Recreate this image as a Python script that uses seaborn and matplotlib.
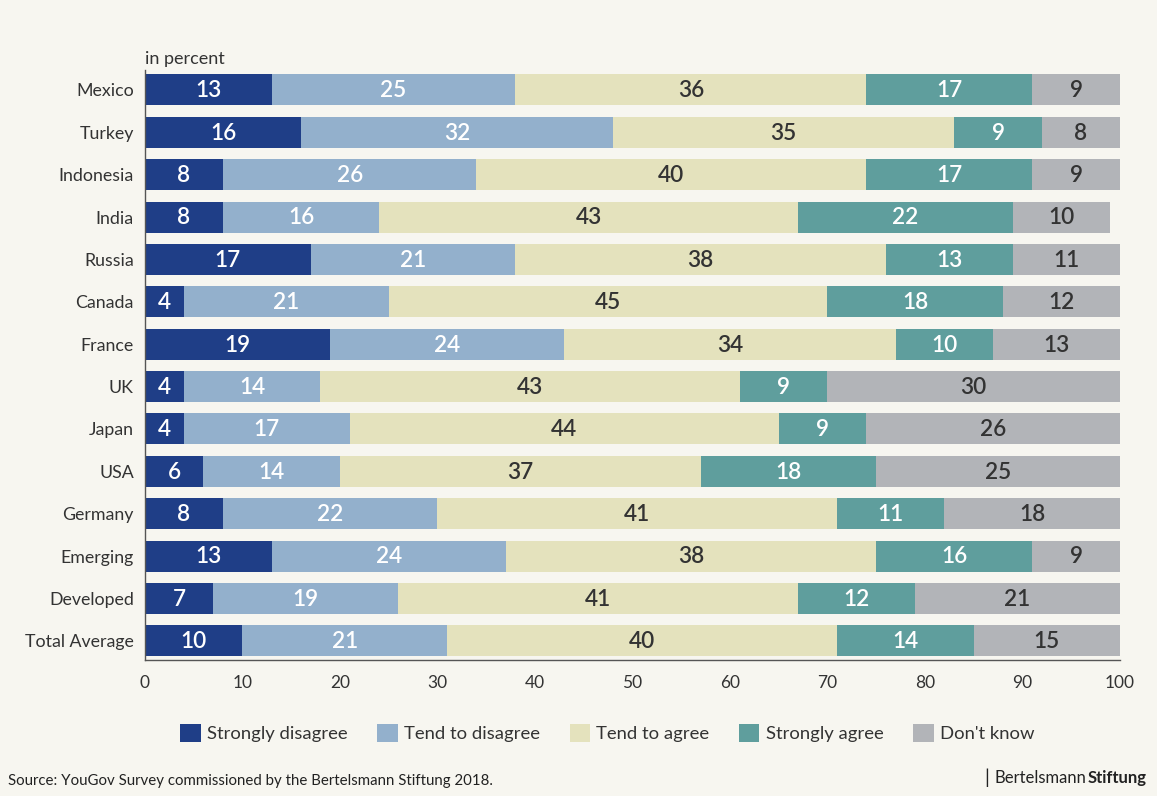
import matplotlib
matplotlib.use("Agg")
import matplotlib.pyplot as plt
from matplotlib.patches import Patch
import numpy as np
import pandas as pd
import seaborn as sns

# Survey answers per country, in percent
countries = ["Mexico", "Turkey", "Indonesia", "India", "Russia", "Canada", "France",
             "UK", "Japan", "USA", "Germany", "Emerging", "Developed", "Total Average"]
answers = ["Strongly disagree", "Tend to disagree", "Tend to agree", "Strongly agree", "Don't know"]
strongly_disagree = [13, 16, 8, 8, 17, 4, 19, 4, 4, 6, 8, 13, 7, 10]
tend_to_disagree = [25, 32, 26, 16, 21, 21, 24, 14, 17, 14, 22, 24, 19, 21]
tend_to_agree = [36, 35, 40, 43, 38, 45, 34, 43, 44, 37, 41, 38, 41, 40]
strongly_agree = [17, 9, 17, 22, 13, 18, 10, 9, 9, 18, 11, 16, 12, 14]
dont_know = [9, 8, 9, 10, 11, 12, 13, 30, 26, 25, 18, 9, 21, 15]
x_ticks = [0, 10, 20, 30, 40, 50, 60, 70, 80, 90, 100]

colors = ["#1f3e87", "#93b0cc", "#e4e2bd", "#5f9e9d", "#b2b4b8"]
label_colors = ["white", "white", "#333333", "white", "#333333"]
bg = "#f7f6f0"
text_col = "#333333"

series = [strongly_disagree, tend_to_disagree, tend_to_agree, strongly_agree, dont_know]
vals = np.array(series, dtype=float)
cum = np.cumsum(vals, axis=0)

rows = []
for i, ans in enumerate(answers):
    for j, c in enumerate(countries):
        rows.append({"country": c, "answer": ans, "value": vals[i, j], "cum": cum[i, j]})
df = pd.DataFrame(rows)

sns.set_theme(style="white")
plt.rcParams["font.family"] = ["Lato", "DejaVu Sans"]

fig = plt.figure(figsize=(11.57, 7.96), dpi=100, facecolor=bg)
ax = fig.add_axes([0.1253, 0.171, 0.8427, 0.741])
ax.set_facecolor(bg)

# Stacked bars: draw cumulative totals from the outermost segment inward
for i in reversed(range(len(answers))):
    sub = df[df["answer"] == answers[i]]
    sns.barplot(data=sub, x="cum", y="country", order=countries, orient="h",
                color=colors[i], saturation=1, width=0.73, ax=ax, linewidth=0)

# Value labels centred in each segment
for i in range(len(answers)):
    for j in range(len(countries)):
        v = vals[i, j]
        ax.text(cum[i, j] - v / 2, j + 0.02, f"{int(v)}", ha="center", va="center",
                fontsize=16.3, fontweight="semibold", color=label_colors[i])

ax.set_xlim(0, 100)
ax.set_ylim(len(countries) - 0.55, -0.47)
ax.set_xticks(x_ticks)
ax.set_xticklabels([str(t) for t in x_ticks])
ax.set_xlabel("")
ax.set_ylabel("")
ax.tick_params(axis="x", direction="in", length=5, width=1, color="#555555",
               labelsize=12.5, labelcolor=text_col, pad=11)
ax.tick_params(axis="y", length=0, labelsize=12.8, labelcolor=text_col, pad=8)
for s in ["top", "right"]:
    ax.spines[s].set_visible(False)
for s in ["left", "bottom"]:
    ax.spines[s].set_visible(True)
    ax.spines[s].set_color("#555555")
    ax.spines[s].set_linewidth(1)

ax.text(0, 1.006, "in percent", transform=ax.transAxes, ha="left", va="bottom",
        fontsize=13, color=text_col)

handles = [Patch(facecolor=c, edgecolor="none") for c in colors]
fig.legend(handles, answers, loc="center", bbox_to_anchor=(0.525, 0.079), ncol=5,
           frameon=False, fontsize=13.3, handlelength=1.1, handleheight=1.1,
           handletextpad=0.35, columnspacing=1.6, labelcolor=text_col)

fig.text(0.007, 0.010, "Source: YouGov Survey commissioned by the Bertelsmann Stiftung 2018.",
         ha="left", va="bottom", fontsize=10.8, color="#222222")
fig.text(0.851, 0.011, "|", ha="left", va="bottom", fontsize=14, color="#222222")
t1 = fig.text(0.8595, 0.012, "Bertelsmann", ha="left", va="bottom", fontsize=12, color="#222222")
fig.canvas.draw()
bb = t1.get_window_extent()
fig.text((bb.x1 + 1) / fig.bbox.width, 0.012, "Stiftung", ha="left", va="bottom",
         fontsize=12, fontweight="bold", color="#222222")

fig.savefig("out.png", dpi=100, facecolor=bg)
